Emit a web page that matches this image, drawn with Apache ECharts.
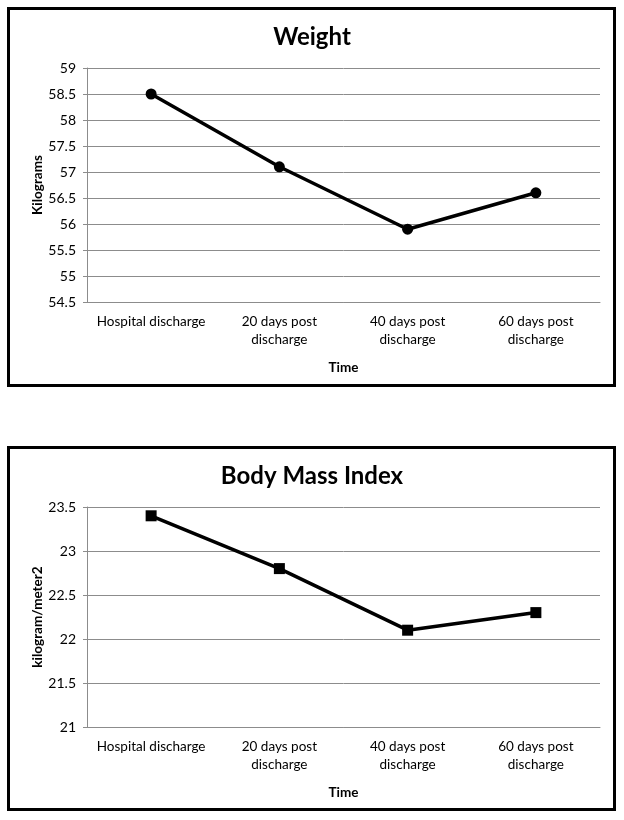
<!DOCTYPE html>
<html>
<head>
<meta charset="utf-8">
<script src="https://cdn.jsdelivr.net/npm/echarts@6/dist/echarts.min.js"></script>
<style>
html,body{margin:0;padding:0;background:#fff;}
#c{width:624px;height:820px;}
</style>
</head>
<body>
<div id="c"></div>
<script>
const categories = ["Hospital discharge", "20 days post\ndischarge", "40 days post\ndischarge", "60 days post\ndischarge"];
const weightValues = [58.5, 57.1, 55.9, 56.6];
const bmiValues = [23.4, 22.8, 22.1, 22.3];
const weightTicks = {min: 54.5, max: 59, interval: 0.5};
const bmiTicks = {min: 21, max: 23.5, interval: 0.5};

const FONT = 'Lato';
const chart = echarts.init(document.getElementById('c'), null, {renderer: 'canvas'});

function xAxis(gi) {
  return {
    type: 'category', gridIndex: gi, data: categories, boundaryGap: true,
    axisLine: {lineStyle: {color: '#8c8c8c', width: 1}},
    axisTick: {show: false},
    axisLabel: {color: '#000', fontFamily: FONT, fontSize: 13.5, lineHeight: 18, margin: 11, interval: 0},
    name: 'Time', nameLocation: 'middle', nameGap: 59, nameMoveOverlap: false,
    nameTextStyle: {fontFamily: FONT, fontWeight: 'bold', fontSize: 13.5, color: '#000'}
  };
}
function yAxis(gi, t, name) {
  return {
    type: 'value', gridIndex: gi, min: t.min, max: t.max, interval: t.interval,
    axisLine: {show: true, lineStyle: {color: '#8c8c8c', width: 1}},
    axisTick: {show: true, length: 4, lineStyle: {color: '#8c8c8c'}},
    splitLine: {lineStyle: {color: '#8c8c8c', width: 1}},
    axisLabel: {color: '#000', fontFamily: FONT, fontSize: 14, margin: 11},
    name: name, nameLocation: 'middle', nameGap: 42, nameRotate: 90, nameMoveOverlap: false,
    nameTextStyle: {fontFamily: FONT, fontWeight: 'bold', fontSize: 13.5, color: '#000'}
  };
}

chart.setOption({
  animation: false,
  backgroundColor: '#fff',
  title: [
    {text: 'Weight', left: 'center', top: 20, textStyle: {fontFamily: FONT, fontWeight: 'bold', fontSize: 24, color: '#000'}},
    {text: 'Body Mass Index', left: 'center', top: 459, textStyle: {fontFamily: FONT, fontWeight: 'bold', fontSize: 24, color: '#000'}}
  ],
  grid: [
    {left: 87, right: 24, top: 68, height: 234},
    {left: 87, right: 24, top: 507, height: 220}
  ],
  xAxis: [xAxis(0), xAxis(1)],
  yAxis: [yAxis(0, weightTicks, 'Kilograms'), yAxis(1, bmiTicks, 'kilogram/meter2')],
  series: [
    {type: 'line', xAxisIndex: 0, yAxisIndex: 0, data: weightValues, symbol: 'circle', symbolSize: 11,
     lineStyle: {color: '#000', width: 3.5}, itemStyle: {color: '#000'}},
    {type: 'line', xAxisIndex: 1, yAxisIndex: 1, data: bmiValues, symbol: 'rect', symbolSize: 11,
     lineStyle: {color: '#000', width: 3.5}, itemStyle: {color: '#000'}}
  ],
  graphic: [
    {type: 'rect', shape: {x: 8.5, y: 8.5, width: 606, height: 377}, style: {fill: null, stroke: '#000', lineWidth: 3}, z: 100},
    {type: 'rect', shape: {x: 8.5, y: 447.5, width: 606, height: 362}, style: {fill: null, stroke: '#000', lineWidth: 3}, z: 100}
  ]
});
</script>
</body>
</html>
